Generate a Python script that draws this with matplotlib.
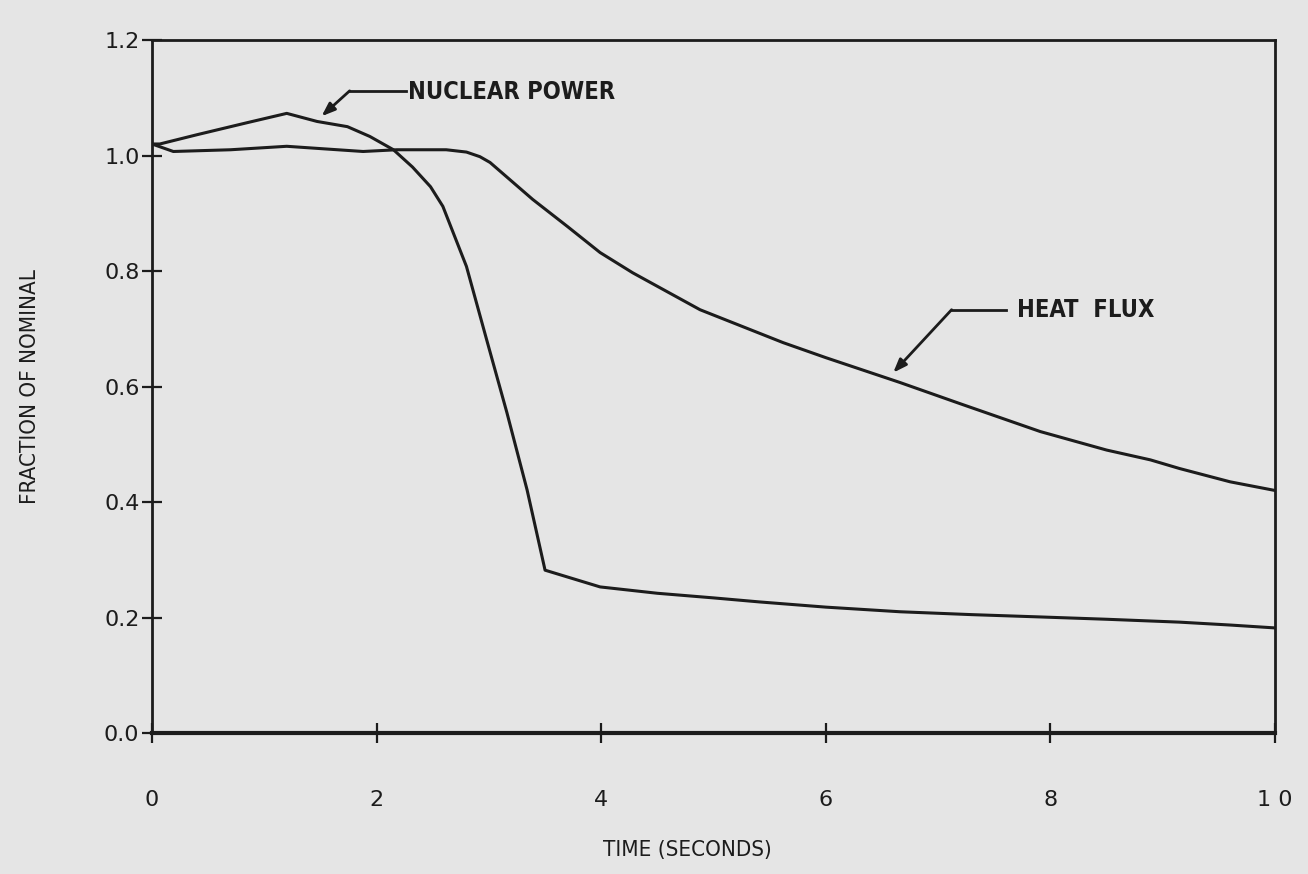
import numpy as np
import matplotlib.pyplot as plt

# values
nuclear_t = [0, 0.07, 0.4, 0.85, 1.2, 1.47, 1.74, 1.94, 2.15, 2.32, 2.48, 2.59, 2.8, 2.98,
             3.16, 3.34, 3.5, 3.99, 4.5, 5.0, 5.41, 6.0, 6.66, 7.3, 7.91, 8.5, 9.15, 9.6, 10]
nuclear_y = [1.02, 1.02, 1.036, 1.057, 1.073, 1.059, 1.05, 1.033, 1.01, 0.98, 0.946, 0.912,
             0.808, 0.681, 0.555, 0.421, 0.282, 0.253, 0.242, 0.234, 0.227, 0.218, 0.21,
             0.205, 0.201, 0.197, 0.192, 0.187, 0.182]

heat_t = [0, 0.19, 0.7, 1.2, 1.5, 1.88, 2.18, 2.62, 2.8, 2.92, 3.01, 3.39, 3.7, 3.99, 4.28,
          4.88, 5.62, 6.0, 6.66, 7.2, 7.91, 8.5, 8.89, 9.15, 9.6, 10]
heat_y = [1.02, 1.007, 1.01, 1.016, 1.012, 1.007, 1.01, 1.01, 1.006, 0.998, 0.988, 0.924,
          0.877, 0.832, 0.797, 0.733, 0.676, 0.65, 0.607, 0.57, 0.522, 0.49, 0.473, 0.458,
          0.435, 0.42]

x_ticks = [0, 2, 4, 6, 8, 10]
x_labels = ['0', '2', '4', '6', '8', '1 0']
y_ticks = [0.0, 0.2, 0.4, 0.6, 0.8, 1.0, 1.2]
y_labels = ['0.0', '0.2', '0.4', '0.6', '0.8', '1.0', '1.2']

ink = '#1c1c1c'
paper = '#e5e5e5'

fig = plt.figure(figsize=(13.08, 8.74), dpi=100, facecolor=paper)
ax = fig.add_axes([0.1162, 0.1613, 0.8586, 0.7929])
ax.set_facecolor(paper)

ax.plot(nuclear_t, nuclear_y, color=ink, linewidth=2.2)
ax.plot(heat_t, heat_y, color=ink, linewidth=2.2)

ax.set_xlim(0, 10)
ax.set_ylim(0, 1.2)
ax.set_xticks(x_ticks)
ax.set_xticklabels(x_labels)
ax.set_yticks(y_ticks)
ax.set_yticklabels(y_labels)

for s in ax.spines.values():
    s.set_color(ink)
    s.set_linewidth(2.0)
ax.spines['bottom'].set_linewidth(3.0)

ax.tick_params(axis='both', direction='inout', length=14, width=1.6, colors=ink,
               labelsize=16)
ax.tick_params(axis='x', pad=34)
ax.tick_params(axis='y', pad=2)

lab = dict(family='DejaVu Sans', fontstretch='condensed', fontweight='bold',
           fontsize=17, color=ink)

# NUCLEAR POWER callout
ax.text(2.28, 1.11, 'NUCLEAR POWER', va='center', ha='left', **lab)
ax.plot([1.76, 2.26], [1.112, 1.112], color=ink, linewidth=2.0)
ax.annotate('', xy=(1.51, 1.068), xytext=(1.76, 1.112),
            arrowprops=dict(arrowstyle='-|>,head_length=0.8,head_width=0.3',
                            color=ink, lw=2.0, shrinkA=0, shrinkB=0))

# HEAT FLUX callout
ax.text(7.70, 0.733, 'HEAT  FLUX', va='center', ha='left', **lab)
ax.plot([7.12, 7.60], [0.733, 0.733], color=ink, linewidth=2.0)
ax.annotate('', xy=(6.6, 0.624), xytext=(7.12, 0.733),
            arrowprops=dict(arrowstyle='-|>,head_length=0.8,head_width=0.3',
                            color=ink, lw=2.0, shrinkA=0, shrinkB=0))

ax.set_xlabel('TIME (SECONDS)', fontsize=16, color=ink, family='DejaVu Sans',
              fontstretch='condensed')
ax.xaxis.set_label_coords(0.477, -0.155)
ax.set_ylabel('FRACTION OF NOMINAL', fontsize=16, color=ink, family='DejaVu Sans',
              fontstretch='condensed')
ax.yaxis.set_label_coords(-0.10, 0.5)

fig.savefig('out.png', dpi=100, facecolor=paper)
